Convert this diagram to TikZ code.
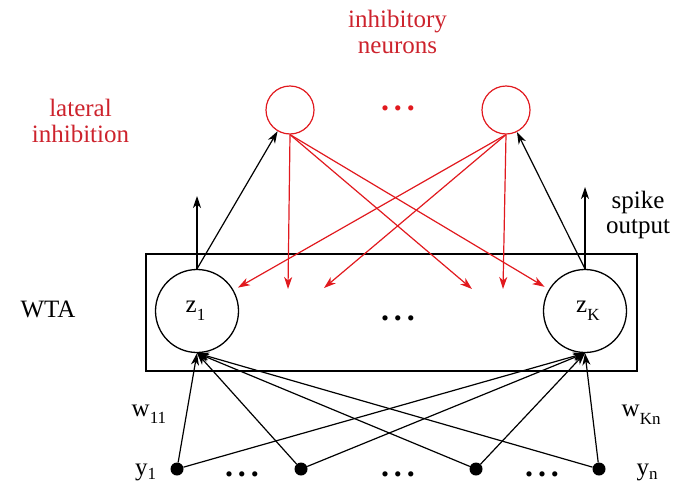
\documentclass[tikz,border=0pt]{standalone}
\usepackage{fontspec}
\setmainfont{Liberation Serif}
\usetikzlibrary{arrows.meta}
\definecolor{inhred}{RGB}{225,25,30}
\definecolor{labred}{RGB}{205,35,45}
% lowered roman subscript
\newcommand\lowsub[2][7pt]{\raisebox{-#1}{\fontsize{17}{17}\selectfont #2}}
% bold spaced ellipsis
\newcommand\tripledots{{\fontsize{32}{32}\selectfont\bfseries .\hspace{5pt}.\hspace{5pt}.}}

\begin{document}
\begin{tikzpicture}[x=1pt,y=-1pt,
  txt/.style={font=\fontsize{25}{25.5}\selectfont, inner sep=0pt, align=center},
  neuron/.style={circle, draw, line width=1.3pt, minimum size=83pt, inner sep=0pt},
  inhib/.style={circle, draw=inhred, line width=1.2pt, minimum size=48pt, inner sep=0pt},
  input/.style={circle, fill, minimum size=13pt, inner sep=0pt},
  exc/.style={line width=1.2pt, -{Stealth[length=12pt,width=8pt,inset=3.5pt]}},
  inh/.style={draw=inhred, line width=1.2pt, -{Stealth[length=12pt,width=8pt,inset=3.5pt]}, inhred},
]
\useasboundingbox (0,0) rectangle (679,482);

% WTA box and excitatory neurons
\node[draw, line width=1.2pt, minimum width=491pt, minimum height=117pt, inner sep=0pt] (box) at (391.5,312.5) {};
\node[neuron] (z1) at (197,311) {};
\node[neuron] (zK) at (585,311) {};
\node[txt, anchor=base west] (lz1) at (185.5,312) {z\lowsub[8pt]{1}};
\node[txt, anchor=base west] (lzK) at (576,312) {z\lowsub[8pt]{K}};
\node[txt, anchor=base] (mdots) at (398,320) {\tripledots};

% inhibitory neurons
\node[inhib] (i1) at (290,110) {};
\node[inhib] (i2) at (506,110) {};
\node[txt, anchor=base, text=inhred] (idots) at (398,110) {\tripledots};

% input neurons
\node[input] (y1) at (177,469) {};
\node[input] (y2) at (301,469) {};
\node[input] (y3) at (476,469) {};
\node[input] (y4) at (599,469) {};
\node[txt, anchor=base] (d1) at (242,476) {\tripledots};
\node[txt, anchor=base] (d2) at (398,476) {\tripledots};
\node[txt, anchor=base] (d3) at (542,476) {\tripledots};

% labels
\node[txt] (wta) at (48,309) {WTA};
\node[txt, text=labred] (lat) at (80.5,121) {lateral\\inhibition};
\node[txt, text=labred] (inn) at (397.5,32) {inhibitory\\neurons};
\node[txt] (spk) at (638,215) {spike\\output};
\node[txt, anchor=base west] (w11) at (131.5,416.5) {w\lowsub[6.5pt]{11}};
\node[txt, anchor=base west] (wKn) at (621.5,416.5) {w\lowsub[7.5pt]{Kn}};
\node[txt, anchor=base west] (ly1) at (135,475) {y\lowsub[4pt]{1}};
\node[txt, anchor=base west] (lyn) at (636.5,475) {y\lowsub[4pt]{n}};

% output spikes
\coordinate (o1) at (197,196);
\coordinate (oK) at (585,187);
\draw[exc] (z1.north) -- (o1);
\draw[exc] (zK.north) -- (oK);
\draw[exc] (z1.north) -- (i1);
\draw[exc] (zK.north) -- (i2);

% lateral inhibition
\coordinate (t1) at (288,289);
\coordinate (t2) at (324,288);
\coordinate (t3) at (472,289);
\coordinate (t4) at (503,289);
\draw[inh] (i1.south) -- (t1);
\draw[inh] (i1.south) -- (t3);
\draw[inh, shorten >=5pt] (i1.south) -- (zK);
\draw[inh] (i2.south) -- (t4);
\draw[inh] (i2.south) -- (t2);
\draw[inh, shorten >=5pt] (i2.south) -- (z1);

% feed-forward inputs
\foreach \y in {y1,y2,y3,y4}{
  \draw[exc] (\y) -- (z1.south);
  \draw[exc] (\y) -- (zK.south);
}
\end{tikzpicture}
\end{document}
